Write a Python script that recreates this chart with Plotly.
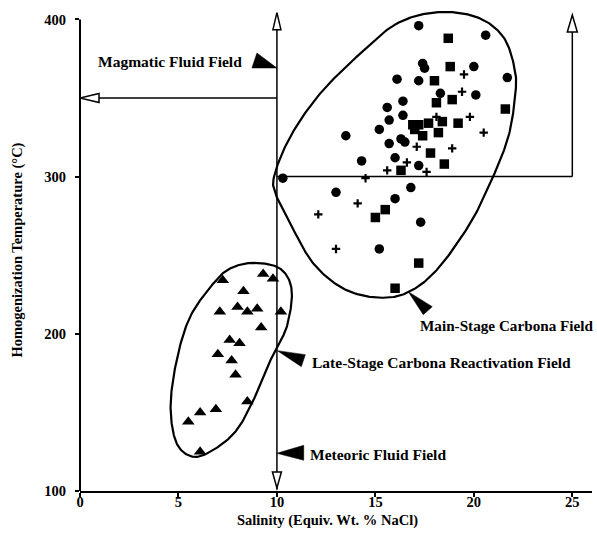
import numpy as np
import plotly.graph_objects as go

# ---------------- data ----------------
circle_x = [17.2, 20.6, 17.4, 17.5, 20.0, 16.1, 17.2, 21.7, 18.3, 20.1, 16.4, 15.6, 16.4, 15.7,
            15.2, 13.5, 16.3, 16.5, 15.7, 14.3, 16.0, 17.2, 10.3, 13.0, 16.8, 16.0, 17.3, 15.2]
circle_y = [396, 390, 372, 369, 370, 362, 361, 363, 353, 352, 348, 344, 339, 336,
            330, 326, 324, 322, 321, 310, 312, 307, 299, 290, 293, 286, 271, 254]

square_x = [18.7, 18.8, 18.0, 18.1, 18.9, 21.6, 16.9, 17.2, 17.7, 18.4, 19.2, 17.0, 17.4, 18.2,
            17.8, 18.5, 16.3, 15.5, 15.0, 17.2, 16.0]
square_y = [388, 370, 361, 347, 349, 343, 333, 333, 334, 335, 334, 330, 326, 328,
            315, 308, 304, 279, 274, 245, 229]

plus_x = [19.5, 19.4, 18.1, 19.8, 20.5, 17.1, 18.9, 16.6, 15.6, 17.6, 14.5, 14.1, 12.1, 13.0]
plus_y = [365, 354, 338, 338, 328, 319, 318, 309, 304, 303, 299, 283, 276, 254]

tri_x = [7.25, 9.3, 9.8, 8.3, 8.0, 7.1, 8.5, 9.0, 10.2, 9.2, 7.6, 8.1, 7.0, 7.7, 7.9, 8.5, 6.9, 6.1, 5.5, 6.1]
tri_y = [234, 238, 235, 227, 217, 214, 214, 216, 214, 204, 196, 194, 187, 183, 174, 157, 152, 150, 144, 125]

# field outlines (control points of closed smooth curves)
main_field_x = [9.85, 10.67, 12.19, 14.22, 16.08, 18.11, 20.15, 21.5, 22.09, 22.09, 21.75, 20.9,
                19.81, 18.11, 16.59, 15.07, 13.37, 11.85, 10.67, 9.99]
main_field_y = [299.8, 325.2, 352.8, 378.2, 397.3, 404.6, 401.5, 388.8, 367.6, 350.6, 325.2, 297.7,
                270.2, 240.5, 226.0, 223.1, 228.8, 244.7, 270.2, 287.1]
late_field_x = [8.8, 10.16, 10.75, 10.5, 9.82, 8.97, 7.96, 6.77, 5.75, 4.91, 4.6, 4.91, 5.59, 6.77, 7.62]
late_field_y = [245.1, 241.5, 227.8, 204.4, 187.5, 162.1, 138.8, 126.1, 121.8, 130.3, 153.6, 183.3,
                210.8, 232.0, 241.5]

x_ticks = [0, 5, 10, 15, 20, 25]
y_ticks = [100, 200, 300, 400]

x_title = "Salinity (Equiv. Wt. % NaCl)"
y_title = "Homogenization Temperature (°C)"

FONT = "Liberation Serif"


def closed_catmull_rom(xs, ys, n=24):
    p = np.column_stack([xs, ys]).astype(float)
    m = len(p)
    out = []
    for i in range(m):
        p0, p1, p2, p3 = p[(i - 1) % m], p[i], p[(i + 1) % m], p[(i + 2) % m]
        t = np.linspace(0, 1, n, endpoint=False)[:, None]
        t2, t3 = t * t, t * t * t
        pt = 0.5 * ((2 * p1) + (-p0 + p2) * t + (2 * p0 - 5 * p1 + 4 * p2 - p3) * t2
                    + (-p0 + 3 * p1 - 3 * p2 + p3) * t3)
        out.append(pt)
    out.append(p[:1])
    arr = np.vstack(out)
    return arr[:, 0], arr[:, 1]


fig = go.Figure()

for fx, fy in [(main_field_x, main_field_y), (late_field_x, late_field_y)]:
    cx, cy = closed_catmull_rom(fx, fy)
    fig.add_trace(go.Scatter(x=cx, y=cy, mode="lines", line=dict(color="black", width=2.2),
                             hoverinfo="skip", showlegend=False))

fig.add_trace(go.Scatter(x=circle_x, y=circle_y, mode="markers",
                         marker=dict(symbol="circle", size=9.5, color="black"), showlegend=False))
fig.add_trace(go.Scatter(x=square_x, y=square_y, mode="markers",
                         marker=dict(symbol="square", size=9.5, color="black"), showlegend=False))
fig.add_trace(go.Scatter(x=plus_x, y=plus_y, mode="markers",
                         marker=dict(symbol="cross-thin", size=6, color="black",
                                     line=dict(color="black", width=2.2)), showlegend=False))
fig.add_trace(go.Scatter(x=tri_x, y=tri_y, mode="markers",
                         marker=dict(symbol="triangle-up", size=11, color="black"), showlegend=False))

shapes = []
# y axis line
shapes.append(dict(type="line", xref="paper", yref="y", x0=0, x1=0, y0=100, y1=400,
                   line=dict(color="black", width=2)))
# guide lines
line_style = dict(color="black", width=1.5)
shapes.append(dict(type="line", xref="x", yref="y", x0=10, x1=10, y0=101, y1=404, line=line_style))
shapes.append(dict(type="line", xref="x", yref="y", x0=0, x1=10, y0=350, y1=350, line=line_style))
shapes.append(dict(type="line", xref="x", yref="y", x0=10, x1=25, y0=300, y1=300, line=line_style))
shapes.append(dict(type="line", xref="x", yref="y", x0=25, x1=25, y0=300, y1=402, line=line_style))


def pix_path(xa, ya, path, fill):
    return dict(type="path", xref="x", yref="y", xsizemode="pixel", ysizemode="pixel",
                xanchor=xa, yanchor=ya, path=path, fillcolor=fill,
                line=dict(color="black", width=1.5 if fill == "white" else 0.5))


# open arrow heads
shapes.append(pix_path(10, 404.3, "M 0 0 L -4 -17 L 4 -17 Z", "white"))
shapes.append(pix_path(25, 402.8, "M 0 0 L -5 -17 L 5 -17 Z", "white"))
shapes.append(pix_path(10, 101.9, "M 0 0 L -4.5 16 L 4.5 16 Z", "white"))
shapes.append(pix_path(0, 350, "M 0 0 L 19 4.5 L 19 -4.5 Z", "white"))
# filled pointers
shapes.append(pix_path(10, 369.1, "M 0 0 L -25 0 L -20 15 Z", "black"))
shapes.append(pix_path(16.67, 226.8, "M 0 0 L 24 -15 L 15 -23 Z", "black"))
shapes.append(pix_path(10.02, 189.3, "M 0 0 L 28 -4 L 24 -16 Z", "black"))
shapes.append(pix_path(9.99, 124.0, "M 0 0 L 27 8 L 27 -7 Z", "black"))

txt_font = dict(family=FONT, size=15.5, color="black", weight="bold")
title_font = dict(family=FONT, size=14.5, color="black", weight="bold")
annotations = [
    dict(x=8.28, y=373.1, text="Magmatic Fluid Field", xanchor="right", font=txt_font),
    dict(x=17.22, y=205.0, text="Main-Stage Carbona Field", xanchor="left",
         font=dict(txt_font, size=15.2)),
    dict(x=11.72, y=181.6, text="Late-Stage Carbona Reactivation Field", xanchor="left", font=txt_font),
    dict(x=11.64, y=123.5, text="Meteoric Fluid Field", xanchor="left", font=txt_font),
]
annotations = [dict(a, xref="x", yref="y", yanchor="middle", showarrow=False,
                    borderpad=0) for a in annotations]
annotations.append(dict(x=0.484, y=-0.061, xref="paper", yref="paper", text=x_title,
                        showarrow=False, xanchor="center", yanchor="middle", font=title_font))
annotations.append(dict(x=-0.123, y=0.50, xref="paper", yref="paper", text=y_title,
                        showarrow=False, xanchor="center", yanchor="middle", textangle=-90,
                        font=title_font))

tick_font = dict(family=FONT, size=14.5, color="black", weight="bold")
fig.update_layout(
    width=597, height=535,
    margin=dict(l=80, r=5, t=10, b=44),
    paper_bgcolor="white", plot_bgcolor="white",
    shapes=shapes, annotations=annotations,
    xaxis=dict(range=[0, 26], tickvals=x_ticks, showgrid=False, zeroline=False,
               showline=True, linecolor="black", linewidth=2,
               ticks="outside", ticklen=4, tickwidth=1.5, tickcolor="black", tickfont=tick_font,
               ticklabelstandoff=-7),
    yaxis=dict(range=[100, 406], tickvals=y_ticks, showgrid=False, zeroline=False,
               showline=False, ticks="outside", ticklen=4, tickwidth=1.5, tickcolor="black",
               tickfont=tick_font, ticklabelstandoff=6),
    showlegend=False,
)

fig.write_html("out.html", config={"displayModeBar": False},
               post_script="document.body.style.margin='0px';")
